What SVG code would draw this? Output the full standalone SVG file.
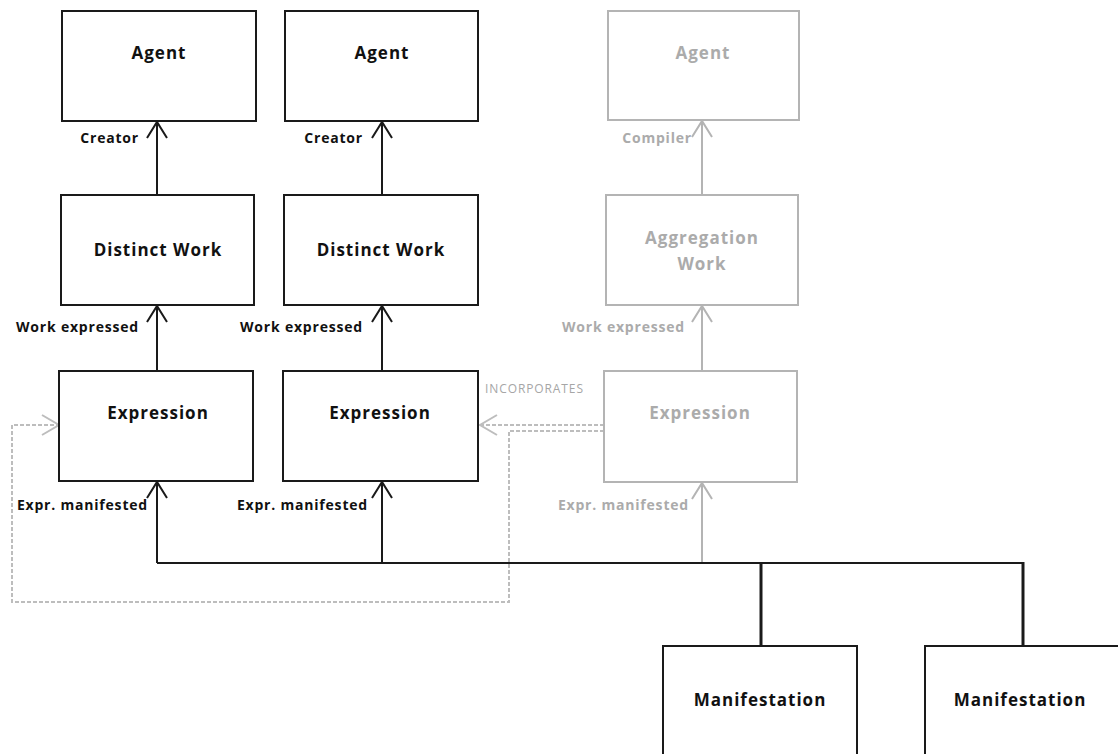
<svg xmlns="http://www.w3.org/2000/svg" width="1118" height="754" viewBox="0 0 1118 754">
<style>
.box{fill:#fff;stroke:#1a1a1a;stroke-width:2}
.gbox{fill:#fff;stroke:#b4b4b4;stroke-width:2}
.nt{font-family:"Open Sans","Noto Sans",sans-serif;font-weight:bold;font-size:17px;letter-spacing:1px;fill:#111;text-anchor:middle}
.gnt{font-family:"Open Sans","Noto Sans",sans-serif;font-weight:bold;font-size:17px;letter-spacing:1px;fill:#ababab;text-anchor:middle}
.lb{font-family:"Open Sans","Noto Sans",sans-serif;font-weight:bold;font-size:14px;letter-spacing:0.8px;fill:#111;text-anchor:end}
.glb{font-family:"Open Sans","Noto Sans",sans-serif;font-weight:bold;font-size:14px;letter-spacing:0.8px;fill:#ababab;text-anchor:end}
.sm{font-family:"Open Sans","Noto Sans",sans-serif;font-size:12px;letter-spacing:0.9px;fill:#a6a6a6}
.ln{fill:none;stroke:#1a1a1a;stroke-width:2}
.lnt{fill:none;stroke:#1a1a1a;stroke-width:3}
.gln{fill:none;stroke:#b4b4b4;stroke-width:2}
.dash{fill:none;stroke:#bdbdbd;stroke-width:2;stroke-dasharray:4 2}
</style>
<defs>
<marker id="ab" markerUnits="userSpaceOnUse" markerWidth="40" markerHeight="40" viewBox="-20 -20 40 40" refX="0" refY="0" orient="auto">
<path d="M-16,-10 L0,0 L-16,10" fill="none" stroke="#1a1a1a" stroke-width="2"/>
</marker>
<marker id="ag" markerUnits="userSpaceOnUse" markerWidth="40" markerHeight="40" viewBox="-20 -20 40 40" refX="0" refY="0" orient="auto">
<path d="M-16,-10 L0,0 L-16,10" fill="none" stroke="#b4b4b4" stroke-width="2"/>
</marker>
<marker id="ad" markerUnits="userSpaceOnUse" markerWidth="40" markerHeight="40" viewBox="-20 -20 40 40" refX="0" refY="0" orient="auto">
<path d="M-17,-10 L0,0 L-17,10" fill="none" stroke="#bdbdbd" stroke-width="2"/>
</marker>
</defs>

<g id="connectors">
<path class="ln" d="M157,195 L157,122" marker-end="url(#ab)"/>
<path class="ln" d="M382,195 L382,122" marker-end="url(#ab)"/>
<path class="gln" d="M702,195 L702,121" marker-end="url(#ag)"/>
<path class="ln" d="M157,371 L157,306" marker-end="url(#ab)"/>
<path class="ln" d="M382,371 L382,306" marker-end="url(#ab)"/>
<path class="gln" d="M702,371 L702,306" marker-end="url(#ag)"/>
<path class="ln" d="M157,563 L157,482" marker-end="url(#ab)"/>
<path class="ln" d="M382,563 L382,482" marker-end="url(#ab)"/>
<path class="gln" d="M702,563 L702,483" marker-end="url(#ag)"/>
<path class="ln" d="M157,563 L1023,563"/>
<path class="lnt" d="M761,563 L761,646"/>
<path class="lnt" d="M1023,562 L1023,646"/>
<path class="dash" d="M604,425 L480,425" marker-end="url(#ad)"/>
<path class="dash" d="M604,431 L509,431 L509,602 L12,602 L12,425 L59,425" marker-end="url(#ad)"/>
<text class="lb" x="139" y="143">Creator</text>
<text class="lb" x="363" y="143">Creator</text>
<text class="glb" x="692" y="143">Compiler</text>
<text class="lb" x="139" y="332">Work expressed</text>
<text class="lb" x="363" y="332">Work expressed</text>
<text class="glb" x="685" y="332">Work expressed</text>
<text class="lb" x="148" y="510">Expr. manifested</text>
<text class="lb" x="368" y="510">Expr. manifested</text>
<text class="glb" x="689" y="510">Expr. manifested</text>
<text class="sm" x="485" y="393">INCORPORATES</text>
</g>

<g id="agent1"><rect class="box" x="62" y="11" width="194" height="110"/><text class="nt" x="159" y="59">Agent</text></g>
<g id="agent2"><rect class="box" x="285" y="11" width="193" height="110"/><text class="nt" x="382" y="59">Agent</text></g>
<g id="agent3"><rect class="gbox" x="608" y="11" width="191" height="109"/><text class="gnt" x="703" y="59">Agent</text></g>

<g id="work1"><rect class="box" x="61" y="195" width="193" height="110"/><text class="nt" x="158" y="256">Distinct Work</text></g>
<g id="work2"><rect class="box" x="284" y="195" width="194" height="110"/><text class="nt" x="381" y="256">Distinct Work</text></g>
<g id="aggwork"><rect class="gbox" x="606" y="195" width="192" height="110"/><text class="gnt" x="702" y="244">Aggregation</text><text class="gnt" x="702" y="270">Work</text></g>

<g id="expr1"><rect class="box" x="59" y="371" width="194" height="110"/><text class="nt" x="158" y="419">Expression</text></g>
<g id="expr2"><rect class="box" x="283" y="371" width="195" height="110"/><text class="nt" x="380" y="419">Expression</text></g>
<g id="expr3"><rect class="gbox" x="604" y="371" width="193" height="111"/><text class="gnt" x="700" y="419">Expression</text></g>

<g id="manif1"><rect class="box" x="663" y="646" width="194" height="130"/><text class="nt" x="760" y="706">Manifestation</text></g>
<g id="manif2"><rect class="box" x="925" y="646" width="210" height="130"/><text class="nt" x="1020" y="706">Manifestation</text></g>
</svg>
